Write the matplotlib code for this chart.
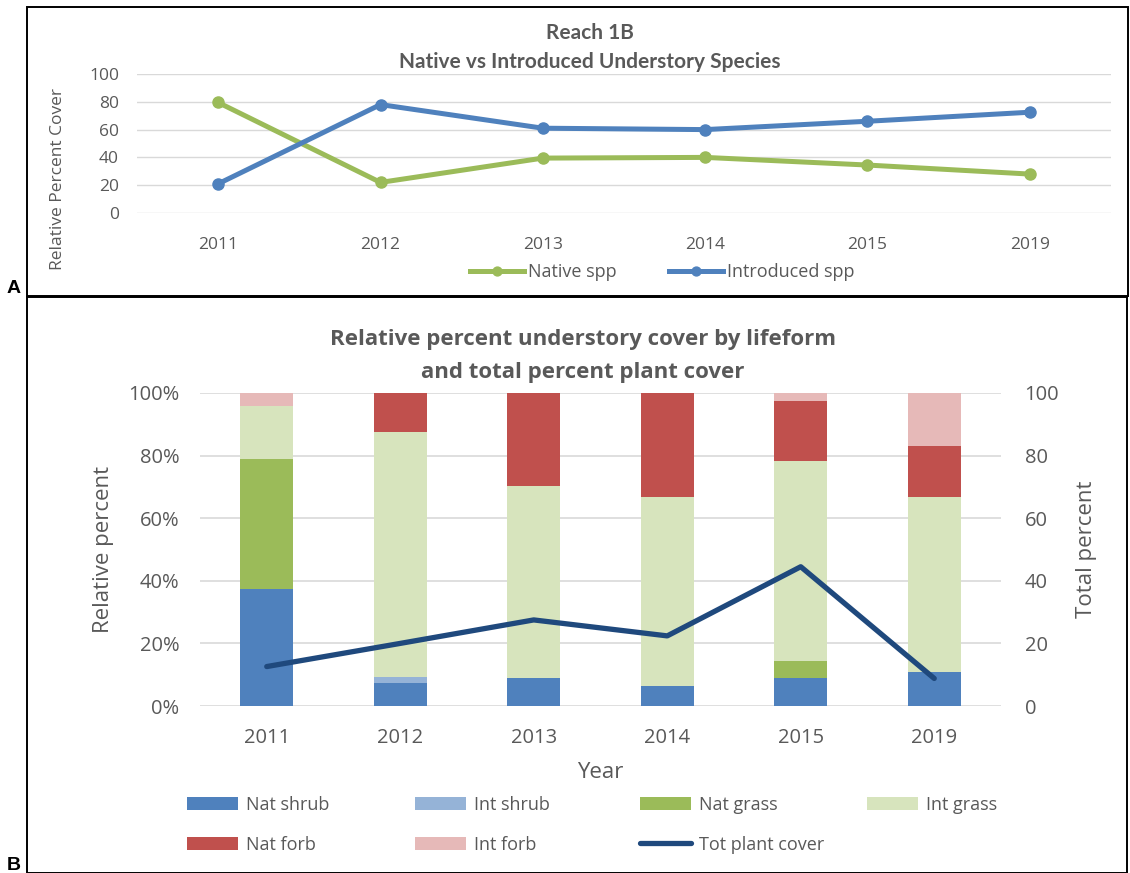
import matplotlib
matplotlib.use("Agg")
import matplotlib.pyplot as plt
from matplotlib.patches import Rectangle
import numpy as np

# ---- data ----
years = ['2011', '2012', '2013', '2014', '2015', '2019']

native_spp = [79.5, 22, 39.5, 40, 34.5, 28]
introduced_spp = [21, 78, 61, 60, 66, 72.5]

nat_shrub = [37.5, 7.4, 8.8, 6.4, 8.8, 11.0]
int_shrub = [0, 2.0, 0, 0, 0, 0]
nat_grass = [41.5, 0, 0, 0, 5.7, 0]
int_grass = [17.0, 78.2, 61.5, 60.3, 63.9, 55.7]
nat_forb = [0, 12.4, 29.7, 33.3, 18.9, 16.4]
int_forb = [4.0, 0, 0, 0, 2.7, 16.9]
tot_plant_cover = [12.6, 20, 27.5, 22.4, 44.5, 8.8]

W, H = 1130, 873
GRAY = '#595959'
GRID = '#d9d9d9'

def fx(px):
    return px / W

def fy(py):
    return 1 - py / H

plt.rcParams['font.family'] = ['Open Sans', 'DejaVu Sans']

fig = plt.figure(figsize=(W / 100, H / 100), dpi=100)

# panel borders
fig.add_artist(Rectangle((fx(27), fy(296)), fx(1128) - fx(27), fy(7) - fy(296),
                         transform=fig.transFigure, fill=False, lw=1.4, ec='black'))
fig.add_artist(Rectangle((fx(27), fy(873)), fx(1127) - fx(27), fy(297) - fy(873),
                         transform=fig.transFigure, fill=False, lw=1.4, ec='black'))
fig.text(fx(7), fy(297), 'A', fontsize=14, fontweight='bold', family='Liberation Sans', va='bottom')
fig.text(fx(7), fy(857), 'B', fontsize=14, fontweight='bold', family='Liberation Sans', va='top')

# ---------------- panel A ----------------
x = np.arange(len(years))
ax1 = fig.add_axes([fx(137), fy(213), fx(1111) - fx(137), fy(74) - fy(213)])
ax1.plot(x, native_spp, color='#9BBB59', lw=3.6, marker='o', ms=8, label='Native spp', zorder=3)
ax1.plot(x, introduced_spp, color='#4F81BD', lw=3.6, marker='o', ms=8, label='Introduced spp', zorder=3)
ax1.set_xlim(-0.5, len(years) - 0.5)
ax1.set_ylim(0, 100)
ax1.set_yticks(range(0, 101, 20))
ax1.set_xticks(x)
ax1.set_xticklabels(years)
ax1.yaxis.grid(True, color=GRID, lw=1)
ax1.set_axisbelow(True)
for s in ax1.spines.values():
    s.set_visible(False)
ax1.tick_params(length=0, colors=GRAY, labelsize=12.5)
ax1.tick_params(axis='y', pad=13)
ax1.tick_params(axis='x', pad=17)
fig.text(fx(58), fy(179), 'Relative Percent Cover', rotation=90, ha='center', va='center',
         color=GRAY, fontsize=12.5)
fig.text(fx(590), fy(33), 'Reach 1B', ha='center', va='center', color=GRAY,
         fontsize=15, fontweight='bold', family='Lato')
fig.text(fx(590), fy(62), 'Native vs Introduced Understory Species', ha='center', va='center',
         color=GRAY, fontsize=15, fontweight='bold', family='Lato')
h1, l1 = ax1.get_legend_handles_labels()
fig.legend(h1, l1, loc='center', bbox_to_anchor=(fx(662), fy(272)), ncol=2, frameon=False,
           fontsize=13, handlelength=3.0, handletextpad=0.2, columnspacing=2.9,
           labelcolor=GRAY, markerscale=0.8)

# ---------------- panel B ----------------
ax2 = fig.add_axes([fx(200), fy(706), fx(1001) - fx(200), fy(393) - fy(706)])
series = [
    (nat_shrub, '#4F81BD', 'Nat shrub'),
    (int_shrub, '#95B3D7', 'Int shrub'),
    (nat_grass, '#9BBB59', 'Nat grass'),
    (int_grass, '#D7E4BD', 'Int grass'),
    (nat_forb, '#C0504D', 'Nat forb'),
    (int_forb, '#E6B9B8', 'Int forb'),
]
bottom = np.zeros(len(years))
for vals, col, lab in series:
    ax2.bar(x, vals, 0.4, bottom=bottom, color=col, label=lab, zorder=2)
    bottom += np.array(vals)
ax2.set_xlim(-0.5, len(years) - 0.5)
ax2.set_ylim(0, 100)
ax2.set_yticks(range(0, 101, 20))
ax2.set_yticklabels([f'{v}%' for v in range(0, 101, 20)])
ax2.set_xticks(x)
ax2.set_xticklabels(years)
ax2.yaxis.grid(True, color=GRID, lw=1.2, zorder=0)
ax2.set_axisbelow(True)
for s in ax2.spines.values():
    s.set_visible(False)
ax2.tick_params(length=0, colors=GRAY, labelsize=14.5)
ax2.tick_params(axis='y', pad=15)
ax2.tick_params(axis='x', pad=16)
ax2.set_ylabel('Relative percent', color=GRAY, fontsize=16, labelpad=10)
ax2.set_xlabel('Year', color=GRAY, fontsize=16, labelpad=10)

ax3 = ax2.twinx()
ax3.plot(x, tot_plant_cover, color='#1F497D', lw=3.8, label='Tot plant cover', zorder=4,
         solid_capstyle='round')
ax3.set_ylim(0, 100)
ax3.set_yticks(range(0, 101, 20))
for s in ax3.spines.values():
    s.set_visible(False)
ax3.tick_params(length=0, colors=GRAY, labelsize=14.5, pad=17)
ax3.set_ylabel('Total percent', color=GRAY, fontsize=16, labelpad=12)

fig.text(fx(583), fy(340), 'Relative percent understory cover by lifeform', ha='center',
         va='center', color=GRAY, fontsize=16, fontweight='bold')
fig.text(fx(583), fy(372), 'and total percent plant cover', ha='center',
         va='center', color=GRAY, fontsize=16, fontweight='bold')

# legend B, laid out as four columns
hb, lb = ax2.get_legend_handles_labels()
hl, ll = ax3.get_legend_handles_labels()
cols = [[0, 4], [1, 5], [2, 'line'], [3]]
col_x = [178, 406, 631, 858]
for cx, idx in zip(col_x, cols):
    hs, ls = [], []
    for i in idx:
        if i == 'line':
            hs.append(hl[0]); ls.append(ll[0])
        else:
            hs.append(hb[i]); ls.append(lb[i])
    fig.legend(hs, ls, loc='upper left', bbox_to_anchor=(fx(cx), fy(787)), frameon=False,
               fontsize=13, handlelength=2.8, handleheight=0.75, handletextpad=0.45,
               labelspacing=1.2, labelcolor=GRAY, borderpad=0)

fig.savefig('out.png', dpi=100)
